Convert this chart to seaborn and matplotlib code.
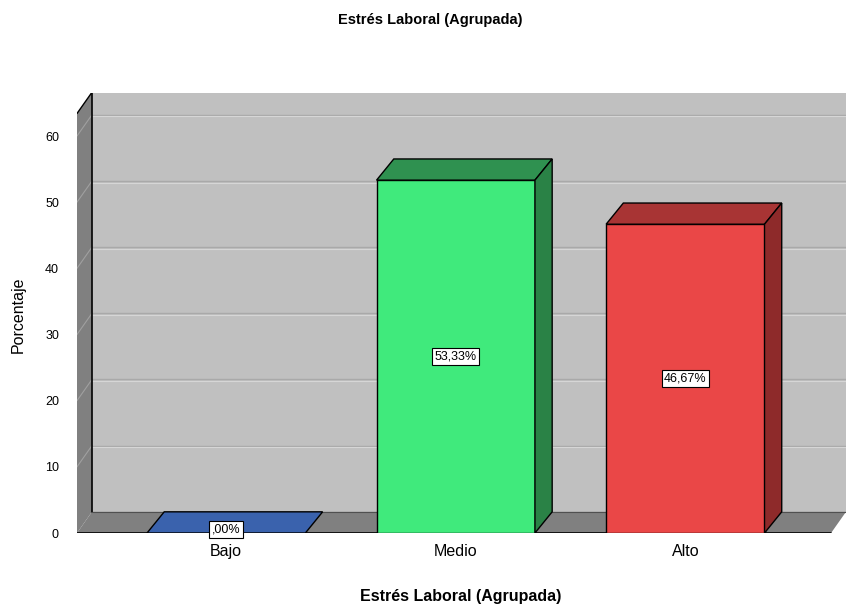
import numpy as np
import pandas as pd
import matplotlib.pyplot as plt
import seaborn as sns
from matplotlib.patches import Polygon, Rectangle

categories = ['Bajo', 'Medio', 'Alto']
percentages = [0.0, 53.33, 46.67]
bar_labels = [',00%', '53,33%', '46,67%']
yticks = [0, 10, 20, 30, 40, 50, 60]

front_colors = ['#3d67b8', '#40ea7c', '#ea4747']
top_colors = ['#3a62ad', '#2f9150', '#a83434']
side_colors = ['#2f5092', '#2a8246', '#8e2a2a']

sns.set_style('white')
plt.rcParams['font.family'] = ['Liberation Sans', 'DejaVu Sans']
plt.rcParams['text.color'] = 'black'
plt.rcParams['xtick.color'] = 'black'
plt.rcParams['ytick.color'] = 'black'

df = pd.DataFrame({'cat': categories, 'pct': percentages})

fig = plt.figure(figsize=(8.46, 6.10), dpi=100)
ax = fig.add_axes([77 / 846, 77 / 610, 769 / 846, 440 / 610])

sns.barplot(data=df, x='cat', y='pct', hue='cat', palette=front_colors, legend=False,
            saturation=1, width=0.69, edgecolor='black', linewidth=1, ax=ax, zorder=2)

ax.set_xlim(-0.65, 2.70)
ax.set_ylim(0, 66.5)

# 3d depth for walls and bars
wdx, wdy = 0.065, 3.2
bdx, bdy = 0.075, 3.2
xmin, xmax, top = -0.65, 2.635, 63.4

# back wall, left wall, floor
ax.add_patch(Rectangle((xmin + wdx, wdy), 5, top, facecolor='#c0c0c0',
                       edgecolor='none', zorder=0))
ax.add_patch(Polygon([(xmin, 0), (xmin + wdx, wdy), (xmin + wdx, top + wdy), (xmin, top)],
                     closed=True, facecolor='#808080', edgecolor='none', zorder=0.2))
ax.add_patch(Polygon([(xmin, 0), (xmax, 0), (xmax + wdx, wdy), (xmin + wdx, wdy)],
                     closed=True, facecolor='#808080', edgecolor='none', zorder=0.2))
for v in yticks[1:]:
    ax.plot([xmin + wdx, 3], [v + wdy, v + wdy], color='#a9a9a9', lw=1, zorder=0.5)
    ax.plot([xmin + wdx, 3], [v + wdy - 0.25, v + wdy - 0.25], color='#d6d6d6', lw=0.8, zorder=0.5)
    ax.plot([xmin, xmin + wdx], [v, v + wdy], color='#a0a0a0', lw=0.8, zorder=0.5)
ax.plot([xmin + wdx, xmin + wdx], [wdy, top + wdy], color='black', lw=1.2, zorder=0.6)
ax.plot([xmin + wdx, 3], [wdy, wdy], color='#505050', lw=0.8, zorder=0.6)
ax.plot([xmin, xmin + wdx], [top, top + wdy], color='black', lw=1, zorder=0.6)
ax.plot([xmin, xmax], [0, 0], color='black', lw=1.2, zorder=0.6)

bars = [p for p in ax.patches if p.get_zorder() == 2]
for i, p in enumerate(bars):
    x0 = p.get_x()
    x1 = x0 + p.get_width()
    h = p.get_height()
    ax.add_patch(Polygon([(x0, h), (x1, h), (x1 + bdx, h + bdy), (x0 + bdx, h + bdy)],
                         closed=True, facecolor=top_colors[i], edgecolor='black',
                         lw=1, zorder=2.1))
    if h > 0:
        ax.add_patch(Polygon([(x1, 0), (x1 + bdx, bdy), (x1 + bdx, h + bdy), (x1, h)],
                             closed=True, facecolor=side_colors[i], edgecolor='black',
                             lw=1, zorder=2.1))
    ypos = h / 2 if h > 0 else 0.6
    ax.text(x0 + p.get_width() / 2, ypos, bar_labels[i], ha='center', va='center',
            fontsize=9, zorder=3,
            bbox=dict(boxstyle='square,pad=0.2', facecolor='white', edgecolor='black', lw=0.8))

ax.set_yticks(yticks)
ax.set_yticklabels([str(v) for v in yticks], fontsize=9)
ax.tick_params(axis='y', length=0, pad=13)
ax.tick_params(axis='x', length=0, pad=8, labelsize=11.5)
ax.set_xlabel('')
ax.set_ylabel('')
for s in ax.spines.values():
    s.set_visible(False)

fig.text(0.508, 0.968, 'Estrés Laboral (Agrupada)', ha='center', va='center',
         fontsize=10.5, fontweight='bold')
fig.text(0.544, 0.022, 'Estrés Laboral (Agrupada)', ha='center', va='center',
         fontsize=11.5, fontweight='bold')
fig.text(0.022, 0.484, 'Porcentaje', ha='center', va='center', rotation=90, fontsize=11.5)

fig.savefig('out.png', dpi=100)
